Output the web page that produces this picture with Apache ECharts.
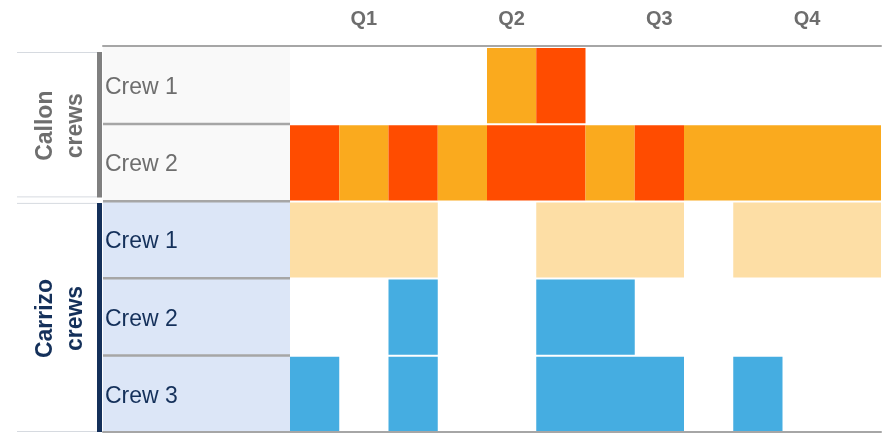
<!DOCTYPE html>
<html>
<head>
<meta charset="utf-8">
<script src="https://cdn.jsdelivr.net/npm/echarts@6/dist/echarts.min.js"></script>
<style>
html,body{margin:0;padding:0;background:#fff;}
#chart{width:888px;height:434px;}
</style>
</head>
<body>
<div id="chart"></div>
<script>
// ---- data ----
const months = ['Jan','Feb','Mar','Apr','May','Jun','Jul','Aug','Sep','Oct','Nov','Dec'];
const quarters = ['Q1','Q2','Q3','Q4'];
const groups = ['Callon\ncrews', 'Carrizo\ncrews'];
const rowLabels = ['Crew 1','Crew 2','Crew 1','Crew 2','Crew 3'];
const rowGroup = [0,0,1,1,1];
// status codes per month: 0 none, 1 amber, 2 red, 3 light peach, 4 blue
const callonCrew1  = [0,0,0,0,1,2,0,0,0,0,0,0];
const callonCrew2  = [2,1,2,1,2,2,1,2,1,1,1,1];
const carrizoCrew1 = [3,3,3,0,0,3,3,3,0,3,3,3];
const carrizoCrew2 = [0,0,4,0,0,4,4,0,0,0,0,0];
const carrizoCrew3 = [4,0,4,0,0,4,4,4,0,4,0,0];
const rowStatus = [callonCrew1, callonCrew2, carrizoCrew1, carrizoCrew2, carrizoCrew3];

// ---- styles ----
const statusColors = [null, '#FAAA1E', '#FF4C00', '#FDDEA5', '#45ADE1'];
const groupBg = ['#F9F9F9', '#DCE6F7'];
const groupText = ['#6E6E6E', '#14305A'];
const groupBar = ['#808080', '#14305A'];
const sepColor = '#A6A6A6';
const FONT = '"Liberation Sans", Arial, sans-serif';

// build runs of identical status
const runs = [];
rowStatus.forEach((arr, r) => {
  let i = 0;
  while (i < arr.length) {
    const s = arr[i];
    let j = i;
    while (j + 1 < arr.length && arr[j + 1] === s) j++;
    if (s) runs.push([i, j + 1, r, s]);
    i = j + 1;
  }
});
const nRows = rowLabels.length;
const groupRanges = groups.map((g, gi) => {
  const idx = rowGroup.map((v, k) => v === gi ? k : -1).filter(k => k >= 0);
  return [idx[0], idx[idx.length - 1] + 1, gi];
});

const chart = echarts.init(document.getElementById('chart'), null, {renderer: 'canvas'});

const TOP = 46, BOTTOM = 2;
const hiddenY = (gi) => ({type: 'value', gridIndex: gi, min: 0, max: nRows, inverse: true, show: false});
const hiddenX = (gi, pos, line) => ({
  type: 'value', gridIndex: gi, min: 0, max: 1, position: pos,
  axisLine: {show: line, onZero: false, lineStyle: {color: sepColor, width: 2}},
  axisTick: {show: false}, axisLabel: {show: false}, splitLine: {show: false}, z: 10
});

const option = {
  animation: false,
  grid: [
    {left: 290, right: 7, top: TOP, bottom: BOTTOM},
    {left: 103, width: 187, top: TOP, bottom: BOTTOM},
    {left: 17, width: 86, top: TOP, bottom: BOTTOM}
  ],
  xAxis: [
    {type: 'value', gridIndex: 0, min: 0, max: months.length, position: 'bottom',
     axisLine: {show: true, onZero: false, lineStyle: {color: sepColor, width: 2}},
     axisTick: {show: false}, axisLabel: {show: false}, splitLine: {show: false}, z: 10},
    {type: 'category', gridIndex: 0, data: quarters, position: 'top',
     axisLine: {show: true, lineStyle: {color: sepColor, width: 2}},
     axisTick: {show: false},
     axisLabel: {color: '#6D6D6D', fontSize: 20, fontWeight: 'bold', fontFamily: FONT, margin: 17},
     splitLine: {show: false}, z: 10},
    hiddenX(1, 'top', true),
    hiddenX(1, 'bottom', true),
    hiddenX(2, 'top', false)
  ],
  yAxis: [hiddenY(0), hiddenY(1), hiddenY(2)],
  series: [
    {
      type: 'custom', xAxisIndex: 0, yAxisIndex: 0,
      data: runs,
      encode: {x: [0, 1], y: 2},
      renderItem: function (params, api) {
        const s = api.value(0), e = api.value(1), r = api.value(2), st = api.value(3);
        const a = api.coord([s, r]);
        const b = api.coord([e, r + 1]);
        return {
          type: 'rect',
          shape: {x: a[0], y: a[1] + 2, width: b[0] - a[0], height: b[1] - a[1] - 2},
          style: {fill: statusColors[st]}
        };
      }
    },
    {
      type: 'custom', xAxisIndex: 2, yAxisIndex: 1,
      data: rowLabels.map((l, r) => [0, r]),
      encode: {x: 0, y: 1},
      renderItem: function (params, api) {
        const r = api.value(1);
        const g = rowGroup[r];
        const a = api.coord([0, r]);
        const b = api.coord([1, r + 1]);
        const children = [
          {type: 'rect', shape: {x: a[0], y: a[1], width: b[0] - a[0], height: b[1] - a[1]},
           style: {fill: groupBg[g]}},
          {type: 'text', x: a[0] + 2, y: (a[1] + b[1]) / 2 + 3,
           style: {text: rowLabels[r], fill: groupText[g], fontSize: 23, fontFamily: FONT,
                   align: 'left', verticalAlign: 'middle'}}
        ];
        if (r > 0) {
          children.push({type: 'rect', shape: {x: a[0], y: a[1] - 0.5, width: b[0] - a[0], height: 2.5},
                         style: {fill: sepColor}});
        }
        return {type: 'group', children: children};
      }
    },
    {
      type: 'custom', xAxisIndex: 4, yAxisIndex: 2,
      data: groupRanges,
      encode: {y: [0, 1]},
      renderItem: function (params, api) {
        const r0 = api.value(0), r1 = api.value(1), g = api.value(2);
        const a = api.coord([0, r0]);
        const b = api.coord([1, r1]);
        const y0 = g === 0 ? a[1] + 6 : a[1] + 2.5;
        const y1 = g === 0 ? b[1] - 3 : b[1];
        const barX = b[0] - 6;
        return {
          type: 'group',
          children: [
            {type: 'line', shape: {x1: a[0], y1: y0 + 0.5, x2: barX, y2: y0 + 0.5},
             style: {stroke: '#D6DAE0', lineWidth: 1}},
            {type: 'line', shape: {x1: a[0], y1: y1 - 0.5, x2: barX, y2: y1 - 0.5},
             style: {stroke: '#D6DAE0', lineWidth: 1}},
            {type: 'rect', shape: {x: barX, y: y0, width: 5, height: y1 - y0},
             style: {fill: groupBar[g]}},
            {type: 'text', x: (a[0] + barX) / 2 + 4, y: (y0 + y1) / 2 + 1, rotation: Math.PI / 2,
             style: {text: groups[g], fill: groupText[g], fontSize: 23, fontWeight: 'bold',
                     fontFamily: FONT, align: 'center', verticalAlign: 'middle', lineHeight: 30}}
          ]
        };
      }
    }
  ]
};
chart.setOption(option);
</script>
</body>
</html>
